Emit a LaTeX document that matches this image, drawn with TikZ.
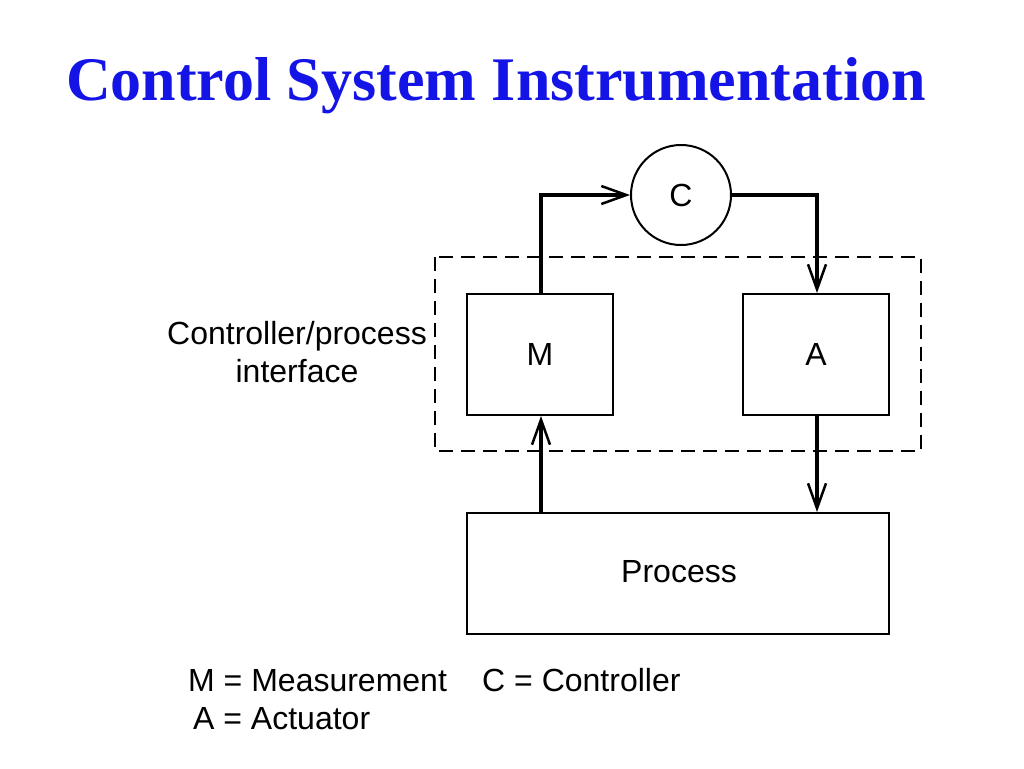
\documentclass[tikz,border=0pt]{standalone}
\usepackage{fontspec}
\setmainfont{Liberation Serif}
\newfontfamily\diafont{Liberation Sans}
\usetikzlibrary{arrows.meta}
\definecolor{titleblue}{RGB}{20,20,230}
\begin{document}
\begin{tikzpicture}[x=1pt,y=-1pt,
  lbl/.style={font=\diafont\fontsize{32}{38}\selectfont, inner sep=0pt},
  blk/.style={draw, line width=2pt, inner sep=0pt},
  flow/.style={line width=4pt, -{Straight Barb[length=25pt,width=18pt,line width=2.5pt]}}]
\useasboundingbox (0,0) rectangle (1024,768);
\node[font=\fontsize{62}{70}\selectfont\bfseries, text=titleblue, anchor=base, inner sep=0pt] (title) at (496,100) {Control System Instrumentation};
\draw[line width=2pt, dash pattern=on 14pt off 8pt] (435,257) rectangle (921,451);
\node[blk, circle, minimum size=100pt] (C) at (681,195) {};
\node[lbl] (Ct) at (681,195) {C};
\node[blk, minimum width=146pt, minimum height=121pt] (M) at (540,354.5) {};
\node[lbl] (Mt) at (540,354.5) {M};
\node[blk, minimum width=146pt, minimum height=121pt] (A) at (816,354.5) {};
\node[lbl] (At) at (816,354.5) {A};
\node[blk, minimum width=422pt, minimum height=121pt] (P) at (678,573.5) {};
\node[lbl] (Pt) at (679,572) {Process};
\coordinate (m1) at (541,195);
\coordinate (a1) at (817,195);
\draw[flow] (M.north -| m1) -- (m1) -- (C.west);
\draw[flow] (C.east) -- (a1) -- (A.north -| a1);
\draw[flow] (P.north -| m1) -- (M.south -| m1);
\draw[flow] (A.south -| a1) -- (P.north -| a1);
\node[lbl, align=center] (iface) at (297,352) {Controller/process\\interface};
\node[lbl, anchor=base west] (leg1) at (188,691) {M = Measurement};
\node[lbl, anchor=base west] (leg2) at (482,691) {C = Controller};
\node[lbl, anchor=base west] (leg3) at (193,729) {A = Actuator};
\end{tikzpicture}
\end{document}
